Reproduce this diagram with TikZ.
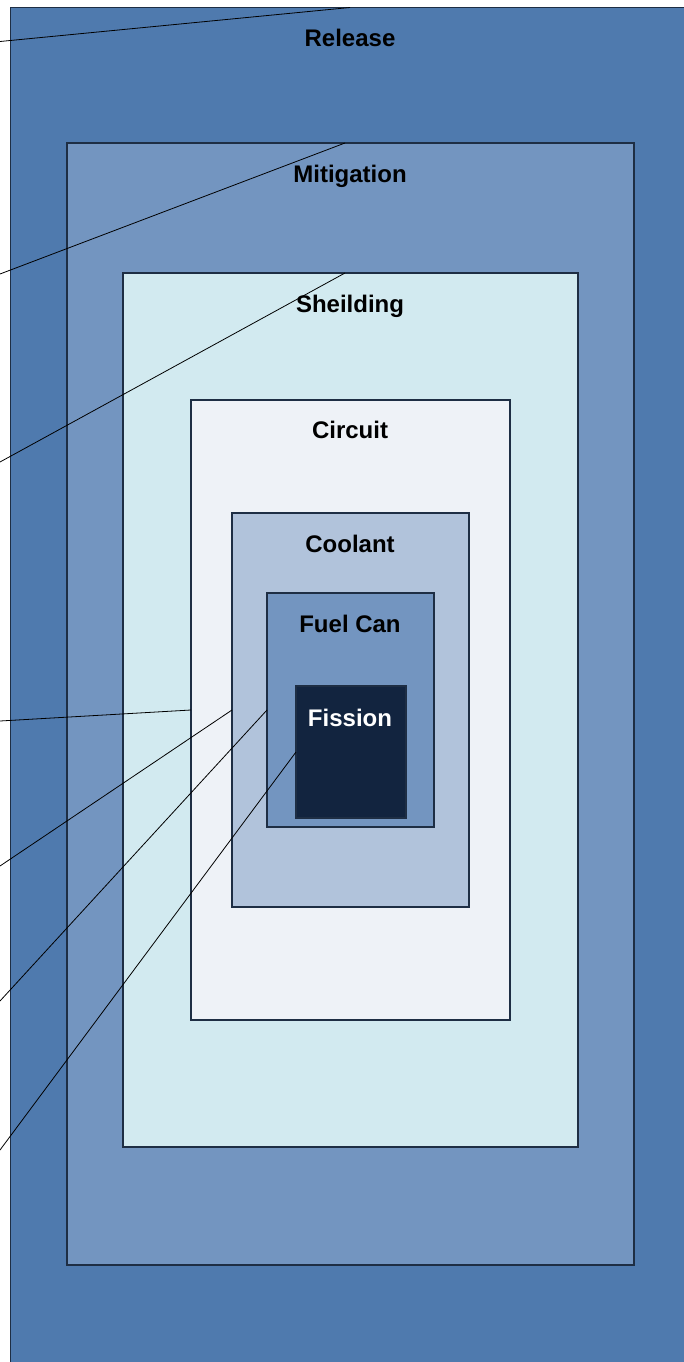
\documentclass[tikz,border=0pt]{standalone}
\usepackage{fontspec}
\setmainfont{Liberation Sans}
\usetikzlibrary{calc}
\definecolor{crel}{HTML}{4F7AAE}
\definecolor{cmit}{HTML}{7395C0}
\definecolor{cshl}{HTML}{D2EAF0}
\definecolor{ccir}{HTML}{EEF2F7}
\definecolor{ccool}{HTML}{B1C3DB}
\definecolor{cfuel}{HTML}{7395C0}
\definecolor{cfis}{HTML}{12243F}
\definecolor{cedge}{HTML}{1E2E44}
\begin{document}
\begin{tikzpicture}[x=0.75pt,y=-0.75pt,
  layer/.style={draw=cedge,line width=0.8pt,anchor=north west,inner sep=0pt,outer sep=0pt},
  lbl/.style={anchor=base,font=\bfseries\fontsize{18}{21}\selectfont,inner sep=0pt},
  lead/.style={draw=black,line width=0.6pt}]
\useasboundingbox (0,0) rectangle (684,1362);
\clip (0,0) rectangle (684,1362);
\fill[white] (0,0) rectangle (684,1362);
\node[layer,fill=crel,minimum width=525pt,minimum height=1050pt] (rel) at (10.5,7.5) {};
\node[layer,fill=cmit,minimum width=425.25pt,minimum height=841.5pt] (mit) at (67,143) {};
\node[layer,fill=cshl,minimum width=341.25pt,minimum height=655.5pt] (shl) at (123,273) {};
\node[layer,fill=ccir,minimum width=239.25pt,minimum height=465pt] (cir) at (191,400) {};
\node[layer,fill=ccool,minimum width=177.75pt,minimum height=295.5pt] (cool) at (232,513) {};
\node[layer,fill=cfuel,minimum width=125.25pt,minimum height=175.5pt] (fuel) at (267,593) {};
\node[layer,fill=cfis,minimum width=82.5pt,minimum height=99pt] (fis) at (296,686) {};
\coordinate (e1) at (0,41.5);
\coordinate (e2) at (0,274);
\coordinate (e3) at (0,462);
\coordinate (e4) at (0,721);
\coordinate (e5) at (0,866);
\coordinate (e6) at (0,1001);
\coordinate (e7) at (0,1150);
\draw[lead] (e1) -- ($(rel.north west)+(339.5,0)$);
\draw[lead] (e2) -- ($(mit.north west)+(278,0)$);
\draw[lead] (e3) -- ($(shl.north west)+(222,0)$);
\draw[lead] (e4) -- ($(cir.north west)+(0,310)$);
\draw[lead] (e5) -- ($(cool.north west)+(0,197)$);
\draw[lead] (e6) -- ($(fuel.north west)+(0,117)$);
\draw[lead] (e7) -- (fis.west);
\node[lbl] (trel) at (350,47) {Release};
\node[lbl] (tmit) at (350,183) {Mitigation};
\node[lbl] (tshl) at (350,312) {Sheilding};
\node[lbl] (tcir) at (350,438) {Circuit};
\node[lbl] (tcool) at (350,552) {Coolant};
\node[lbl] (tfuel) at (350,632) {Fuel Can};
\node[lbl,text=white] (tfis) at (350,726) {Fission};
\end{tikzpicture}
\end{document}
